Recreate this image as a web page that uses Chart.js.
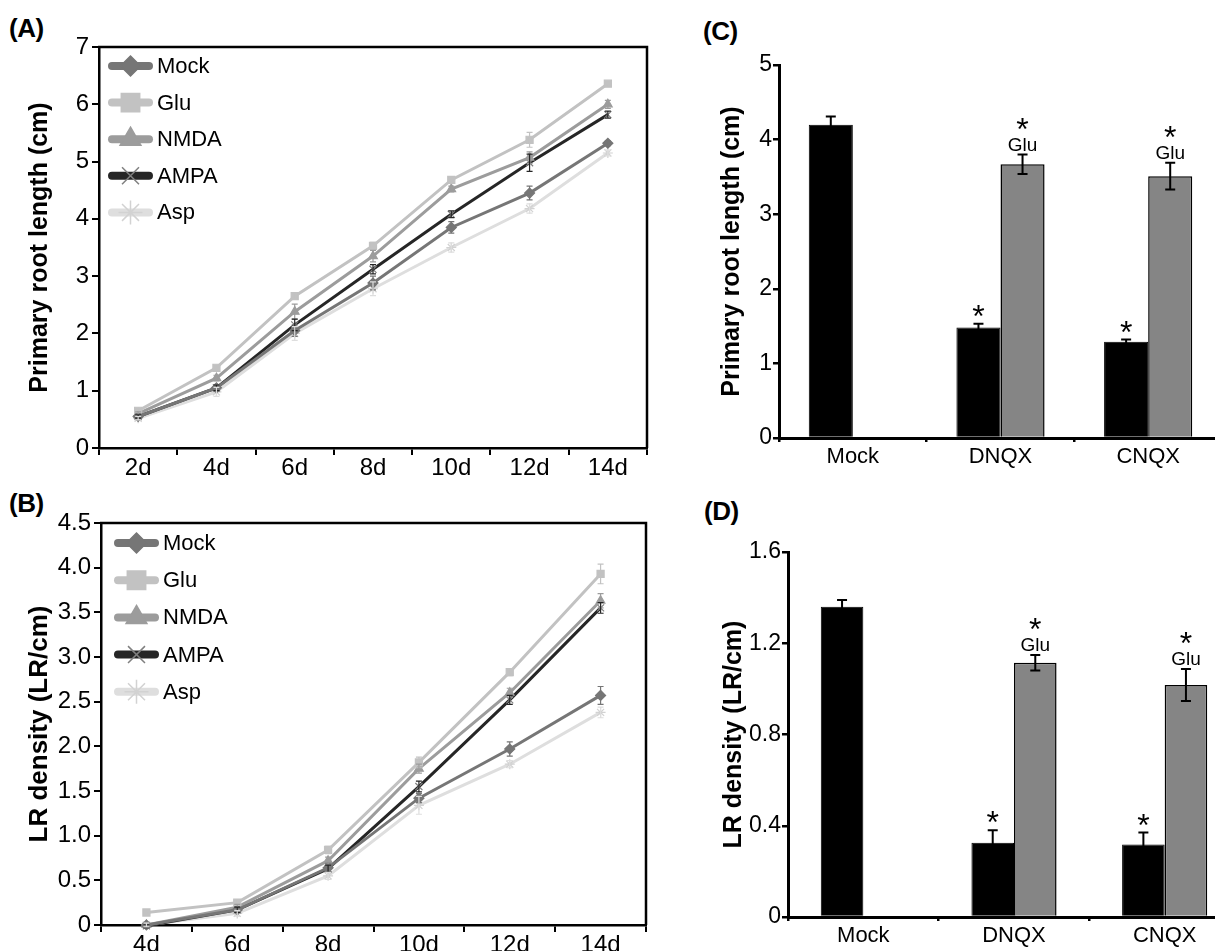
<!DOCTYPE html>
<html><head><meta charset="utf-8">
<script src="https://cdn.jsdelivr.net/npm/chart.js@4.4.1/dist/chart.umd.min.js"></script>
<style>
html,body{margin:0;padding:0;background:#fff;overflow:hidden;width:1215px;height:951px;}
body{position:relative;}
canvas{position:absolute;}
.lbl{position:absolute;font-family:"Liberation Sans",Arial,sans-serif;font-weight:bold;font-size:26px;line-height:26px;letter-spacing:-0.5px;color:#000;}
</style></head><body>
<div class="lbl" style="left:9px;top:15px">(A)</div>
<div class="lbl" style="left:9px;top:490px">(B)</div>
<div class="lbl" style="left:703px;top:18px">(C)</div>
<div class="lbl" style="left:704px;top:498px">(D)</div>
<canvas id="cA" width="660" height="490" style="left:0;top:0"></canvas>
<canvas id="cB" width="660" height="461" style="left:0;top:490px"></canvas>
<canvas id="cC" width="562" height="480" style="left:660px;top:0"></canvas>
<canvas id="cD" width="580" height="471" style="left:660px;top:480px"></canvas>
<script>
// ---------- DATA ----------
const seriesNames = ["Mock", "Glu", "NMDA", "AMPA", "Asp"];

// Panel A: primary root length (cm)
const daysA = ["2d", "4d", "6d", "8d", "10d", "12d", "14d"];
const mockA = [0.55, 1.05, 2.05, 2.88, 3.85, 4.45, 5.32];
const gluA  = [0.65, 1.40, 2.65, 3.53, 4.68, 5.38, 6.36];
const nmdaA = [0.60, 1.22, 2.38, 3.35, 4.52, 5.07, 6.00];
const ampaA = [0.55, 1.05, 2.15, 3.12, 4.08, 4.98, 5.82];
const aspA  = [0.52, 0.98, 2.00, 2.78, 3.50, 4.18, 5.15];
const mockAerr = [0.03, 0.05, 0.10, 0.12, 0.10, 0.12, 0.04];
const gluAerr  = [0.03, 0.04, 0.05, 0.06, 0.05, 0.13, 0.04];
const nmdaAerr = [0.03, 0.05, 0.13, 0.10, 0.05, 0.10, 0.07];
const ampaAerr = [0.03, 0.05, 0.10, 0.08, 0.06, 0.15, 0.06];
const aspAerr  = [0.03, 0.08, 0.12, 0.12, 0.08, 0.08, 0.05];

// Panel B: LR density (LR/cm)
const daysB = ["4d", "6d", "8d", "10d", "12d", "14d"];
const mockB = [0.00, 0.17, 0.64, 1.42, 1.97, 2.57];
const gluB  = [0.14, 0.25, 0.84, 1.82, 2.83, 3.93];
const nmdaB = [0.00, 0.20, 0.72, 1.75, 2.60, 3.63];
const ampaB = [-0.01, 0.17, 0.63, 1.55, 2.52, 3.55];
const aspB  = [0.00, 0.13, 0.55, 1.34, 1.80, 2.38];
const mockBerr = [0.02, 0.03, 0.05, 0.05, 0.08, 0.10];
const gluBerr  = [0.02, 0.03, 0.04, 0.06, 0.04, 0.11];
const nmdaBerr = [0.02, 0.03, 0.04, 0.05, 0.05, 0.08];
const ampaBerr = [0.02, 0.03, 0.04, 0.06, 0.05, 0.06];
const aspBerr  = [0.02, 0.03, 0.04, 0.10, 0.04, 0.06];

// Panels C and D: treatments
const treatments = ["Mock", "DNQX", "CNQX"];
const rootC     = [4.20, 1.48, 1.29];
const rootCerr  = [0.11, 0.05, 0.03];
const rootGluC    = [null, 3.67, 3.51];
const rootGluCerr = [null, 0.13, 0.18];
const lrD     = [1.36, 0.325, 0.318];
const lrDerr  = [0.03, 0.055, 0.052];
const lrGluD    = [null, 1.115, 1.017];
const lrGluDerr = [null, 0.034, 0.07];
const starMarks = [null, "*", "*"];
const gluMarks  = [null, "Glu", "Glu"];

// tick settings
const ticksA = {min: 0, max: 7, step: 1};
const ticksB = {min: 0, max: 4.5, step: 0.5};
const ticksC = {min: 0, max: 5, step: 1};
const ticksD = {min: 0, max: 1.6, step: 0.4};

// ---------- STYLE ----------
const FONT = '"Liberation Sans", Arial, sans-serif';
Chart.defaults.font.family = FONT;
Chart.defaults.color = '#000';
const styles = [
  {color: '#767676', point: 'rectRot', pcolor: '#767676', lr: 10},
  {color: '#c2c2c2', point: 'rect', pcolor: '#c2c2c2', lr: 13},
  {color: '#9c9c9c', point: 'triangle', pcolor: '#9c9c9c', lr: 12},
  {color: '#262626', point: 'crossRot', pcolor: '#808080', lr: 12},
  {color: '#dedede', point: 'star', pcolor: '#d2d2d2', lr: 12}
];

function lineDatasets(vals, errs) {
  return vals.map((v, i) => ({
    label: seriesNames[i], data: v, errors: errs[i],
    borderColor: styles[i].color, backgroundColor: styles[i].pcolor,
    pointBackgroundColor: styles[i].pcolor, pointBorderColor: styles[i].pcolor,
    pointStyle: styles[i].point, pointRadius: 5, pointBorderWidth: 1.2,
    borderWidth: 3, tension: 0, clip: false
  }));
}

const errorBarPlugin = {
  id: 'errbars',
  afterDatasetsDraw(chart) {
    const ctx = chart.ctx, ys = chart.scales.y;
    chart.data.datasets.forEach((ds, di) => {
      if (!ds.errors) return;
      const meta = chart.getDatasetMeta(di);
      ctx.save();
      ctx.strokeStyle = ds.errColor || ds.borderColor;
      ctx.lineWidth = ds.errWidth || 1.2;
      meta.data.forEach((el, i) => {
        const v = ds.data[i], e = ds.errors[i];
        if (v == null || e == null) return;
        const x = el.x, y1 = ys.getPixelForValue(v + e), y2 = ys.getPixelForValue(v - e);
        const cw = ds.capW || 3;
        ctx.beginPath();
        ctx.moveTo(x, y1); ctx.lineTo(x, y2);
        ctx.moveTo(x - cw, y1); ctx.lineTo(x + cw, y1);
        ctx.moveTo(x - cw, y2); ctx.lineTo(x + cw, y2);
        ctx.stroke();
      });
      ctx.restore();
    });
  }
};

function framePlugin() {
  return {
    id: 'frame',
    afterDraw(chart) {
      const a = chart.chartArea, ctx = chart.ctx;
      ctx.save();
      ctx.strokeStyle = '#000'; ctx.lineWidth = 2.5;
      ctx.beginPath();
      ctx.moveTo(a.left - 1, a.top); ctx.lineTo(a.right, a.top); ctx.lineTo(a.right, a.bottom);
      ctx.stroke();
      ctx.restore();
    }
  };
}

function legendPlugin(lx0, lx1, tx, y0, dy) {
  return {
    id: 'legendBox',
    afterDraw(chart) {
      const ctx = chart.ctx;
      chart.data.datasets.forEach((ds, i) => {
        const y = y0 + i * dy, st = styles[i];
        const cx = (lx0 + lx1) / 2;
        ctx.save();
        ctx.strokeStyle = st.color; ctx.lineWidth = 8; ctx.lineCap = 'round';
        ctx.beginPath(); ctx.moveTo(lx0, y); ctx.lineTo(lx1, y); ctx.stroke();
        ctx.restore();
        ctx.save();
        ctx.fillStyle = st.pcolor; ctx.strokeStyle = st.pcolor; ctx.lineWidth = 1.5;
        Chart.helpers.drawPoint(ctx, {pointStyle: st.point, radius: st.lr, rotation: 0, borderWidth: 1.5}, cx, y);
        ctx.restore();
        ctx.save();
        ctx.fillStyle = '#000'; ctx.font = '22px ' + FONT; ctx.textBaseline = 'middle';
        ctx.fillText(ds.label, tx, y + 1);
        ctx.restore();
      });
    }
  };
}

function fmtTick(dec) { return v => (v === 0 ? '0' : (dec ? v.toFixed(1) : String(Math.round(v)))); }

function lineChart(id, labels, datasets, t, dec, dims, title, legend) {
  return new Chart(document.getElementById(id), {
    type: 'line',
    data: {labels: labels, datasets: datasets},
    options: {
      responsive: false, animation: false, devicePixelRatio: 1,
      layout: {padding: {top: dims.top, right: dims.right, left: 0, bottom: 0}},
      plugins: {legend: {display: false}, tooltip: {enabled: false}},
      scales: {
        x: {
          type: 'category', offset: true,
          grid: {offset: true, drawOnChartArea: false, drawTicks: true, tickLength: 7, color: '#000', lineWidth: 2},
          border: {display: true, color: '#000', width: 2.5},
          ticks: {font: {size: 24}, color: '#000', padding: -1, maxRotation: 0, autoSkip: false},
          afterFit(s) { s.height = dims.xh; }
        },
        y: {
          min: t.min, max: t.max,
          grid: {drawOnChartArea: false, drawTicks: true, tickLength: 7, color: '#000', lineWidth: 2},
          border: {display: true, color: '#000', width: 2.5},
          ticks: {stepSize: t.step, font: {size: 24}, color: '#000', padding: 3, callback: fmtTick(dec)},
          title: {display: true, text: title, color: '#000', font: {size: dims.tf, weight: 'bold'}, padding: {top: dims.tp, bottom: 0}},
          afterFit(s) { s.width = dims.yw; }
        }
      }
    },
    plugins: [errorBarPlugin, framePlugin(), legend]
  });
}

lineChart('cA', daysA,
  lineDatasets([mockA, gluA, nmdaA, ampaA, aspA], [mockAerr, gluAerr, nmdaAerr, ampaAerr, aspAerr]),
  ticksA, false, {top: 47, right: 13, xh: 42, yw: 99, tp: 25, tf: 25},
  'Primary root length (cm)', legendPlugin(112, 149, 157, 66, 36.6));

lineChart('cB', daysB,
  lineDatasets([mockB, gluB, nmdaB, ampaB, aspB], [mockBerr, gluBerr, nmdaBerr, ampaBerr, aspBerr]),
  ticksB, true, {top: 33, right: 14, xh: 26, yw: 101, tp: 24, tf: 26},
  'LR density (LR/cm)', legendPlugin(118, 155, 163, 53, 37.2));

const annotPlugin = {
  id: 'annot',
  afterDatasetsDraw(chart) {
    const ctx = chart.ctx, ys = chart.scales.y;
    chart.data.datasets.forEach((ds, di) => {
      const meta = chart.getDatasetMeta(di);
      meta.data.forEach((el, i) => {
        const v = ds.data[i];
        if (v == null) return;
        const top = ys.getPixelForValue(v + (ds.errors[i] || 0));
        ctx.save();
        ctx.fillStyle = '#000'; ctx.textAlign = 'center'; ctx.textBaseline = 'alphabetic';
        if (ds.glu && ds.glu[i]) {
          ctx.font = '19px ' + FONT;
          ctx.fillText(ds.glu[i], el.x, top - 4);
          ctx.font = '32px ' + FONT;
          ctx.fillText('*', el.x, top - 15);
        } else if (ds.star && ds.star[i]) {
          ctx.font = '32px ' + FONT;
          ctx.fillText(ds.star[i], el.x, top + 3);
        }
        ctx.restore();
      });
    });
  }
};

function barChart(id, black, blackErr, gray, grayErr, t, dec, dims, title) {
  return new Chart(document.getElementById(id), {
    type: 'bar',
    data: {labels: treatments, datasets: [
      {label: 'Control', data: black, errors: blackErr, star: starMarks,
       backgroundColor: '#000', borderColor: '#000', borderWidth: 1,
       errColor: '#000', errWidth: 2, capW: 5,
       barPercentage: 1, categoryPercentage: dims.cp},
      {label: 'Glu', data: gray, errors: grayErr, glu: gluMarks,
       backgroundColor: '#858585', borderColor: '#000', borderWidth: 1.5,
       errColor: '#000', errWidth: 2, capW: 5,
       barPercentage: 1, categoryPercentage: dims.cp}
    ]},
    options: {
      responsive: false, animation: false, devicePixelRatio: 1,
      layout: {padding: {top: dims.top, right: 0, left: 0, bottom: 0}},
      plugins: {legend: {display: false}, tooltip: {enabled: false}},
      scales: {
        x: {
          type: 'category', offset: true,
          grid: {offset: true, drawOnChartArea: false, drawTicks: true, tickLength: 4, color: '#000', lineWidth: 2.5},
          border: {display: true, color: '#000', width: 3},
          ticks: {font: {size: 22}, color: '#000', padding: 2, maxRotation: 0, autoSkip: false},
          afterFit(s) { s.height = dims.xh; }
        },
        y: {
          min: t.min, max: t.max,
          grid: {drawOnChartArea: false, drawTicks: true, tickLength: 6, color: '#000', lineWidth: 2.5},
          border: {display: true, color: '#000', width: 3},
          ticks: {stepSize: t.step, font: {size: 23}, color: '#000', padding: 1, callback: fmtTick(dec)},
          title: {display: true, text: title, color: '#000', font: {size: dims.tf, weight: 'bold'}, padding: {top: dims.tp, bottom: 0}},
          afterFit(s) { s.width = dims.yw; }
        }
      }
    },
    plugins: [errorBarPlugin, annotPlugin]
  });
}

barChart('cC', rootC, rootCerr, rootGluC, rootGluCerr, ticksC, false,
  {top: 65, xh: 42, yw: 119, tp: 57, tf: 25, cp: 0.597}, 'Primary root length (cm)');
barChart('cD', lrD, lrDerr, lrGluD, lrGluDerr, ticksD, true,
  {top: 72, xh: 34, yw: 128, tp: 59, tf: 25, cp: 0.565}, 'LR density (LR/cm)');
</script>
</body></html>
